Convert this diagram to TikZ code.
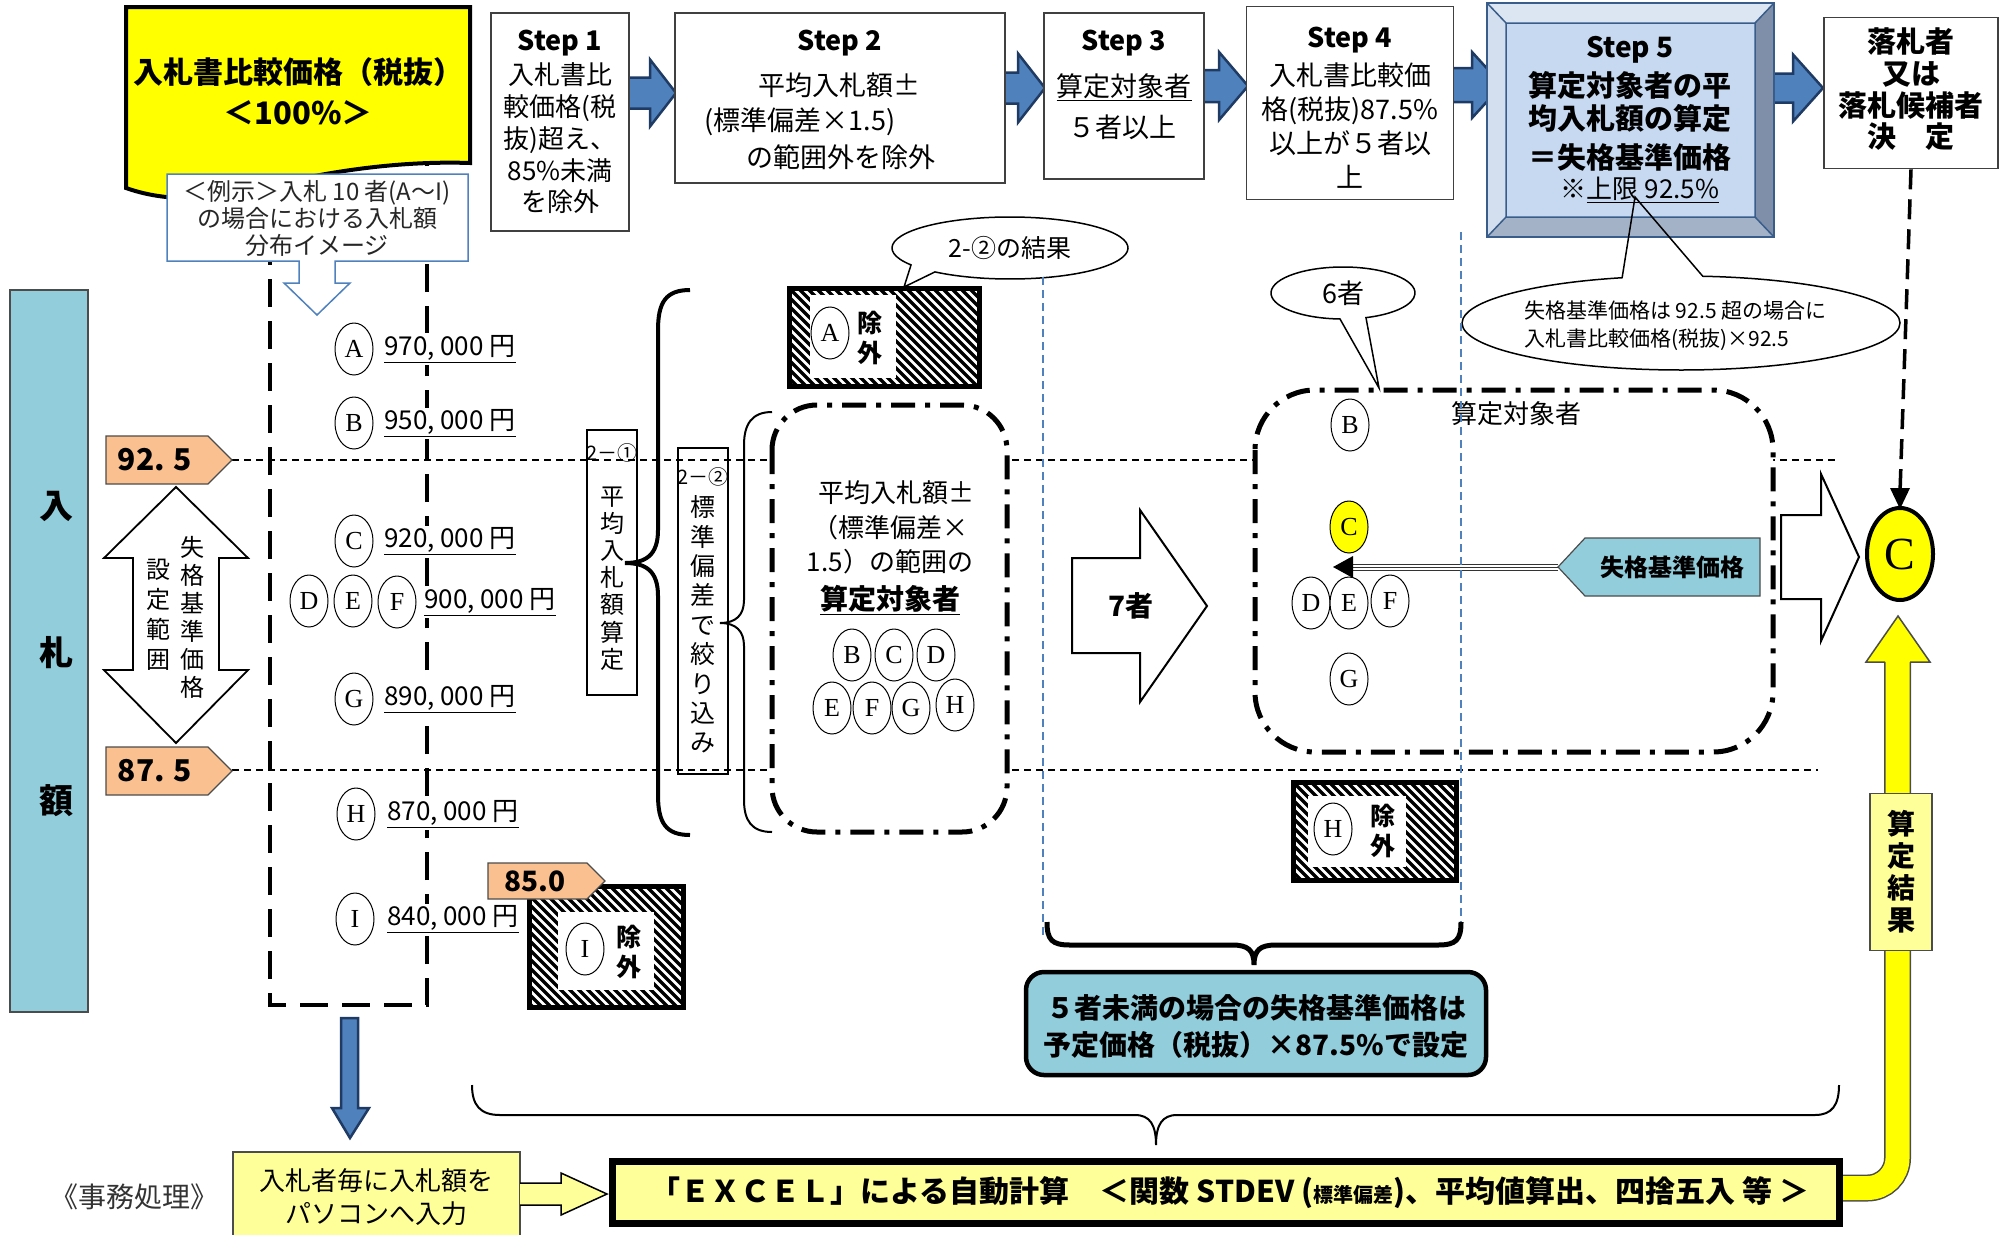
\documentclass[tikz,border=0pt]{standalone}
\usepackage{fontspec}
\setmainfont{Noto Sans CJK JP}
\newfontfamily\serfont{Liberation Serif}
\usetikzlibrary{shapes.geometric,arrows.meta}
\newcommand{\myfs}[2]{\fontsize{#1}{#2}\selectfont}
\definecolor{ybright}{HTML}{FFFF00}
\definecolor{ylight}{HTML}{FFFF99}
\definecolor{lblue}{HTML}{92CDDC}
\definecolor{peach}{HTML}{FAC090}
\definecolor{sblue}{HTML}{4F81BD}
\definecolor{sdark}{HTML}{1F3B63}
\definecolor{bface}{HTML}{C6D9F1}
\definecolor{btop}{HTML}{DCE6F2}
\definecolor{bleft}{HTML}{D3DFEE}
\definecolor{bright}{HTML}{7F8FA9}
\definecolor{bbot}{HTML}{A3B2C6}
\definecolor{bline}{HTML}{385D8A}
\newcommand{\hatchbox}[4]{%
  \begin{scope}
    \clip (#1,#2) rectangle (#3,#4);
    \foreach \k in {0,9,...,360} \draw[line width=3.2pt] ({#1-140+\k},{#2-5}) -- ++(150,150);
  \end{scope}}
\begin{document}
\begin{tikzpicture}[x=1pt,y=-1pt,
  stepbox/.style={draw=black!75,line width=1.6pt,fill=white,inner sep=0pt},
  lc/.style={ellipse,draw,line width=1pt,fill=white,minimum width=38pt,minimum height=52pt,inner sep=0pt,font=\serfont\myfs{26}{26}},
  amt/.style={anchor=west,inner sep=2pt,fill=white,font=\myfs{26}{26}},
  thindash/.style={line width=1.5pt,dash pattern=on 7pt off 5pt},
  dashdot/.style={line width=5pt,dash pattern=on 24pt off 10pt on 5pt off 10pt},
  bluedash/.style={draw=sblue,line width=1.5pt,dash pattern=on 8pt off 5pt},
  tagbox/.style={fill=peach,draw=black!70,line width=1.2pt},
  txt/.style={inner sep=0pt,align=center},
  blockarrow/.style={fill=sblue,draw=sdark,line width=2.5pt,line join=miter},
]
\useasboundingbox (0,0) rectangle (2009,1234);

% left bar
\node[fill=lblue,draw=black!70,line width=1.5pt,minimum width=78pt,minimum height=722pt,inner sep=0pt] (bar) at (49,651) {};
\node[txt,font=\bfseries\myfs{34}{34}] (bar1) at (56,506) {入};
\node[txt,font=\bfseries\myfs{34}{34}] (bar2) at (56,653) {札};
\node[txt,font=\bfseries\myfs{34}{34}] (bar3) at (56,801) {額};

% thin dashed level lines
\draw[thindash] (232,460) -- (1836,460);
\draw[thindash] (232,770) -- (1818,770);

% dashed column
\draw[line width=4.5pt,dash pattern=on 28pt off 14pt] (270,195) -- (270,1005) -- (427,1005) -- (427,165);

% yellow top box
\path[fill=ybright,draw=black,line width=4pt] (126,7) -- (470,7) -- (470,163) .. controls (380,160) and (300,178) .. (250,190) .. controls (200,202) and (160,200) .. (126,188) -- cycle;
\node[txt,font=\bfseries\myfs{30}{30}] (yt1) at (298,72) {入札書比較価格（税抜）};
\node[txt,font=\bfseries\myfs{31}{31}] (yt2) at (298,113) {＜100\%＞};

% example callout
\path[fill=white,draw=sblue,line width=1.5pt] (167,174) -- (468,174) -- (468,261) -- (335,261) -- (335,283) -- (350,283) -- (317,315) -- (284,283) -- (299,283) -- (299,261) -- (167,261) -- cycle;
\node[txt,font=\myfs{24}{27},text=black!85] (ex) at (317,218) {＜例示＞入札 10 者(A～I)\\の場合における入札額\\分布イメージ};

% step arrows
\newcommand{\barrow}[6]{\path[blockarrow] (#1,{#4-#5}) -- (#2,{#4-#5}) -- (#2,{#4-#6}) -- (#3,#4) -- (#2,{#4+#6}) -- (#2,{#4+#5}) -- (#1,{#4+#5}) -- cycle;}
\barrow{622}{650}{676}{93}{15.5}{33.5}
\barrow{1000}{1018}{1045}{88}{15.5}{34.5}
\barrow{1198}{1219}{1248}{86}{16}{34}
\barrow{1448}{1472}{1502}{85}{17}{33}
\barrow{1764}{1793}{1823}{88}{14.5}{33.5}

% Step 1
\node[stepbox,minimum width=138pt,minimum height=218pt] (s1) at (560,122) {};
\node[txt,font=\bfseries\myfs{27}{27}] (s1h) at (560,43) {Step 1};
\node[txt,font=\myfs{26}{31.75}] (s1t) at (560,138.5) {入札書比\\較価格(税\\抜)超え、\\85\%未満\\を除外};
% Step 2
\node[stepbox,minimum width=330pt,minimum height=170pt] (s2) at (840,98) {};
\node[txt,font=\bfseries\myfs{27}{27}] (s2h) at (840,43) {Step 2};
\node[txt,font=\myfs{27}{27}] (s2a) at (839,85) {平均入札額±};
\node[txt,font=\myfs{27}{27}] (s2b) at (800,122) {(標準偏差×1.5)};
\node[txt,font=\myfs{27}{27}] (s2c) at (841,157) {の範囲外を除外};
% Step 3
\node[stepbox,minimum width=160pt,minimum height=166pt] (s3) at (1124,96) {};
\node[txt,font=\bfseries\myfs{27}{27}] (s3h) at (1124,43) {Step 3};
\node[txt,font=\myfs{27}{27}] (s3a) at (1124,87) {\underline{算定対象者}};
\node[txt,font=\myfs{27}{27}] (s3b) at (1122,127) {５者以上};
% Step 4
\node[stepbox,minimum width=207pt,minimum height=193pt] (s4) at (1350,103) {};
\node[txt,font=\bfseries\myfs{27}{27}] (s4h) at (1350,40) {Step 4};
\node[txt,font=\myfs{27}{34}] (s4t) at (1350,126) {入札書比較価\\格(税抜)87.5\%\\以上が５者以\\上};
% Step 5 bevel
\fill[btop] (1487,3) -- (1774,3) -- (1755,23) -- (1506,23) -- cycle;
\fill[bleft] (1487,3) -- (1506,23) -- (1506,217) -- (1487,237) -- cycle;
\fill[bright] (1774,3) -- (1774,237) -- (1755,217) -- (1755,23) -- cycle;
\fill[bbot] (1487,237) -- (1774,237) -- (1755,217) -- (1506,217) -- cycle;
\fill[bface] (1506,23) rectangle (1755,217);
\draw[bline,line width=1.5pt] (1506,23) rectangle (1755,217)
  (1487,3) -- (1506,23) (1774,3) -- (1755,23) (1487,237) -- (1506,217) (1774,237) -- (1755,217);
\draw[bline,line width=2.5pt] (1487,3) rectangle (1774,237);
\node[txt,font=\bfseries\myfs{28}{28}] (s5h) at (1630,50) {Step 5};
\node[txt,font=\bfseries\myfs{29}{29}] (s5a) at (1630,85) {算定対象者の平};
\node[txt,font=\bfseries\myfs{29}{29}] (s5b) at (1630,118) {均入札額の算定};
\node[txt,font=\bfseries\myfs{29}{29}] (s5c) at (1630,157) {＝失格基準価格};
\node[txt,font=\myfs{26}{26}] (s5d) at (1640,190) {※\underline{上限 92.5\%}};
% final box
\node[stepbox,minimum width=174pt,minimum height=151pt] (fin) at (1911,93) {};
\node[txt,font=\bfseries\myfs{29}{31.7}] (fint) at (1911,89.5) {落札者\\又は\\落札候補者\\決　定};

% dashed arrow to final C
\draw[line width=3.5pt,dash pattern=on 20pt off 10pt] (fin.south) -- (1900,492);
\fill (1900,509) -- (1890,488) -- (1910,488) -- cycle;

% 92.5 callout
\draw[line width=1.5pt] (1681,323) ++(275.7:219 and 47) arc[start angle=275.7,end angle=614.4,x radius=219,y radius=47] -- (1635,197) -- cycle;
\node[anchor=west,align=left,inner sep=0pt,font=\myfs{21}{28}] (c925) at (1524,326) {失格基準価格は 92.5 超の場合に\\入札書比較価格(税抜)×92.5};

% tags
\path[tagbox] (106,436) -- (208,436) -- (232,460) -- (208,484) -- (106,484) -- cycle;
\node[txt,font=\bfseries\myfs{30}{30}] (t925) at (155,460) {92. 5};
\path[tagbox] (106,747) -- (208,747) -- (232,771) -- (208,795) -- (106,795) -- cycle;
\node[txt,font=\bfseries\myfs{30}{30}] (t875) at (155,771) {87. 5};

% double arrow
\path[fill=white,draw=black,line width=1.8pt] (176,487) -- (248,558) -- (219,558) -- (219,670) -- (248,670) -- (176,743) -- (104,670) -- (133,670) -- (133,558) -- (104,558) -- cycle;
\node[txt,font=\myfs{24}{28}] (da1) at (192,617) {失\\格\\基\\準\\価\\格};
\node[txt,font=\myfs{24}{30}] (da2) at (158,615) {設\\定\\範\\囲};

% bidders column
\node[lc] (cA) at (354,349) {A};
\node[amt] (aA) at (382,349) {\underline{970, 000 円}};
\node[lc] (cB) at (354,423) {B};
\node[amt] (aB) at (382,423) {\underline{950, 000 円}};
\node[lc] (cC) at (354,541) {C};
\node[amt] (aC) at (382,541) {\underline{920, 000 円}};
\node[lc] (cD) at (309,601) {D};
\node[lc] (cE) at (353,601) {E};
\node[lc] (cF) at (397,602) {F};
\node[amt] (aD) at (422,602) {\underline{900, 000 円}};
\node[lc] (cG) at (354,699) {G};
\node[amt] (aG) at (382,699) {\underline{890, 000 円}};
\node[lc] (cH) at (356,814) {H};
\node[amt] (aH) at (385,814) {\underline{870, 000 円}};
\node[lc] (cI) at (355,919) {I};
\node[amt] (aI) at (385,919) {\underline{840, 000 円}};

% 2-1 brace and box
\draw[line width=4pt] (690,290) .. controls (666,290) and (658,302) .. (658,330) -- (658,530) .. controls (658,555) and (646,563) .. (625,563) .. controls (646,563) and (658,571) .. (658,596) -- (658,795) .. controls (658,823) and (666,835) .. (690,835);
\draw[line width=2pt] (587,430) rectangle (637,695);
\node[txt,font=\myfs{20}{20}] (b21) at (612,453) {2－①};
\node[txt,font=\myfs{24}{27.2}] (b21t) at (612,578.5) {平\\均\\入\\札\\額\\算\\定};
% 2-2 brace and box
\draw[line width=2pt] (772,412) .. controls (752,412) and (744,424) .. (744,445) -- (744,600) .. controls (744,615) and (736,623) .. (720,623) .. controls (736,623) and (744,631) .. (744,646) -- (744,800) .. controls (744,821) and (752,832) .. (772,832);
\draw[line width=2pt] (678,448) rectangle (728,774);
\node[txt,font=\myfs{20}{20}] (b22) at (703,477) {2－②};
\node[txt,font=\myfs{25}{29.4}] (b22t) at (703,624.5) {標\\準\\偏\\差\\で\\絞\\り\\込\\み};

% A excluded
\hatchbox{789}{288}{979}{386}
\fill[white] (810,295) rectangle (896,378);
\draw[line width=5pt] (789,288) rectangle (979,386);
\node[lc] (xA) at (830,333) {A};
\node[txt,font=\bfseries\myfs{25}{30}] (xAt) at (870,338) {除\\外};
% 2-2 result callout
\draw[line width=1.5pt,fill=white] (1010,248) ++(147:118 and 31) arc[start angle=147,end angle=489.5,x radius=118,y radius=31] -- (904,287) -- cycle;
\node[txt,font=\myfs{25}{25}] (r22) at (1010,248) {2-②の結果};

% middle rounded box
\draw[dashdot,rounded corners=45pt,fill=white] (772,405) rectangle (1007,832);
\node[txt,font=\myfs{26}{26}] (m1) at (896,493) {平均入札額±};
\node[txt,font=\myfs{26}{26}] (m2) at (890,528) {（標準偏差×};
\node[txt,font=\myfs{26}{26}] (m3) at (890,562) {1.5）の範囲の};
\node[txt,font=\bfseries\myfs{28}{28}] (m4) at (890,600) {\underline{算定対象者}};
\node[lc] (mB) at (852,655) {B};
\node[lc] (mC) at (894,655) {C};
\node[lc] (mD) at (936,655) {D};
\node[lc] (mE) at (832,708) {E};
\node[lc] (mF) at (872,708) {F};
\node[lc] (mG) at (911,708) {G};
\node[lc] (mH) at (955,705) {H};

% 7 arrow
\path[fill=white,draw=black,line width=2pt] (1072,558) -- (1140,558) -- (1140,510) -- (1207,606) -- (1140,702) -- (1140,653) -- (1072,653) -- cycle;
\node[txt,font=\bfseries\myfs{28}{28}] (seven) at (1131,606) {7者};

% right rounded box
\draw[dashdot,rounded corners=60pt,fill=white] (1255,390) rectangle (1773,752);
\node[txt,font=\myfs{26}{26}] (rlab) at (1516,414) {算定対象者};
\node[lc] (rB) at (1350,425) {B};
\node[lc,fill=ybright] (rC) at (1349,527) {C};
\node[lc] (rD) at (1311,603) {D};
\node[lc] (rE) at (1349,603) {E};
\node[lc] (rF) at (1390,601) {F};
\node[lc] (rG) at (1349,679) {G};
% 6 callout
\draw[line width=1.5pt,fill=white] (1343,293) ++(92.4:72 and 26) arc[start angle=92.4,end angle=431.4,x radius=72,y radius=26] -- (1379,388) -- cycle;
\node[txt,font=\myfs{27}{27}] (six) at (1343,293) {6者};

% disqualification tag + arrow
\path[fill=lblue,draw=black!70,line width=1.2pt] (1558,567) -- (1585,538) -- (1760,538) -- (1760,596) -- (1585,596) -- cycle;
\node[txt,font=\bfseries\myfs{24}{24}] (dq) at (1672,567) {失格基準価格};
\draw[line width=1pt,black!80] (1558,564) -- (1350,564) (1558,567) -- (1350,567) (1558,570) -- (1350,570);
\fill (1333,567) -- (1353,556) -- (1353,578) -- cycle;

% right open arrow and final C
\path[fill=white,draw=black,line width=2pt] (1781,515) -- (1821,515) -- (1821,474) -- (1859,557) -- (1821,641) -- (1821,599) -- (1781,599) -- cycle;
\node[ellipse,draw,line width=4pt,fill=ybright,minimum width=66pt,minimum height=92pt,inner sep=0pt,font=\serfont\myfs{46}{46}] (cfin) at (1900,554) {C};

% H excluded
\hatchbox{1293}{782}{1456}{880}
\fill[white] (1308,796) rectangle (1406,867);
\draw[line width=5pt] (1293,782) rectangle (1456,880);
\node[lc] (xH) at (1333,829) {H};
\node[txt,font=\bfseries\myfs{25}{30}] (xHt) at (1383,831) {除\\外};

% blue dashed guides
\draw[bluedash] (1043,277) -- (1043,935);
\draw[bluedash] (1461,232) -- (1461,935);

% bottom thick brace
\draw[line width=5pt] (1047,922) .. controls (1047,940) and (1052,945) .. (1070,945) -- (1232,945) .. controls (1248,945) and (1254,950) .. (1254,965) .. controls (1254,950) and (1260,945) .. (1276,945) -- (1438,945) .. controls (1456,945) and (1461,940) .. (1461,922);
\node[draw,line width=4.5pt,fill=lblue,rounded corners=18pt,minimum width=460pt,minimum height=103pt,inner sep=0pt] (less5) at (1256,1023.5) {};
\node[txt,font=\bfseries\myfs{28}{37}] (less5t) at (1256,1026) {５者未満の場合の失格基準価格は\\予定価格（税抜）×87.5\%で設定};

% I excluded + 85.0 tag
\hatchbox{529}{886}{683}{1007}
\fill[white] (558,912) rectangle (654,990);
\draw[line width=5pt] (529,886) rectangle (683,1007);
\node[lc] (xI) at (585,949) {I};
\node[txt,font=\bfseries\myfs{25}{30}] (xIt) at (629,952) {除\\外};
\path[tagbox] (488,863) -- (587,863) -- (605,881) -- (587,899) -- (488,899) -- cycle;
\node[txt,font=\bfseries\myfs{28}{28}] (t850) at (535,881) {85.0};

% big thin brace
\draw[line width=2pt] (472,1085) .. controls (472,1105) and (480,1115) .. (500,1115) -- (1135,1115) .. controls (1150,1115) and (1156,1125) .. (1156,1145) .. controls (1156,1125) and (1162,1115) .. (1177,1115) -- (1815,1115) .. controls (1832,1115) and (1839,1105) .. (1839,1085);

% yellow result path
\draw[line width=27pt,black!70,rounded corners=30pt] (1835,1188) -- (1897.5,1188) -- (1897.5,662);
\draw[line width=24pt,ybright,rounded corners=30pt] (1834,1188) -- (1897.5,1188) -- (1897.5,661);
\path[fill=ybright,draw=black!70,line width=1.5pt] (1885,662) -- (1866,662) -- (1898,616) -- (1930,662) -- (1910,662);
\node[fill=ylight,draw=black!70,line width=1.5pt,minimum width=62pt,minimum height=157pt,inner sep=0pt] (res) at (1901,872) {};
\node[txt,font=\bfseries\myfs{28}{32}] (rest) at (1901,872) {算\\定\\結\\果};

% EXCEL box
\draw[line width=7pt,fill=ylight] (612.5,1161.5) rectangle (1839.5,1223.5);
\node[txt,font=\bfseries\myfs{30}{30}] (excel) at (1230,1193) {「ＥＸＣＥＬ」による自動計算\quad ＜関数 STDEV ({\myfs{20}{20}標準偏差})、平均値算出、四捨五入 等 ＞};

% blue down arrow
\path[blockarrow] (341,1018) -- (358,1018) -- (358,1108) -- (369,1108) -- (350,1138) -- (332,1108) -- (341,1108) -- cycle;
% input box
\draw[fill=ylight,draw=black!70,line width=1.5pt] (233,1152) rectangle (520,1245);
\node[txt,font=\myfs{26}{33}] (inp) at (376,1197) {入札者毎に入札額を\\パソコンへ入力};
\path[fill=ylight,draw=black,line width=1.5pt] (520,1183) -- (561,1183) -- (561,1173) -- (607,1194) -- (561,1215) -- (561,1205) -- (520,1205);
\node[txt,font=\myfs{28}{28},text=black!80] (jimu) at (134,1197) {《事務処理》};
\end{tikzpicture}
\end{document}
